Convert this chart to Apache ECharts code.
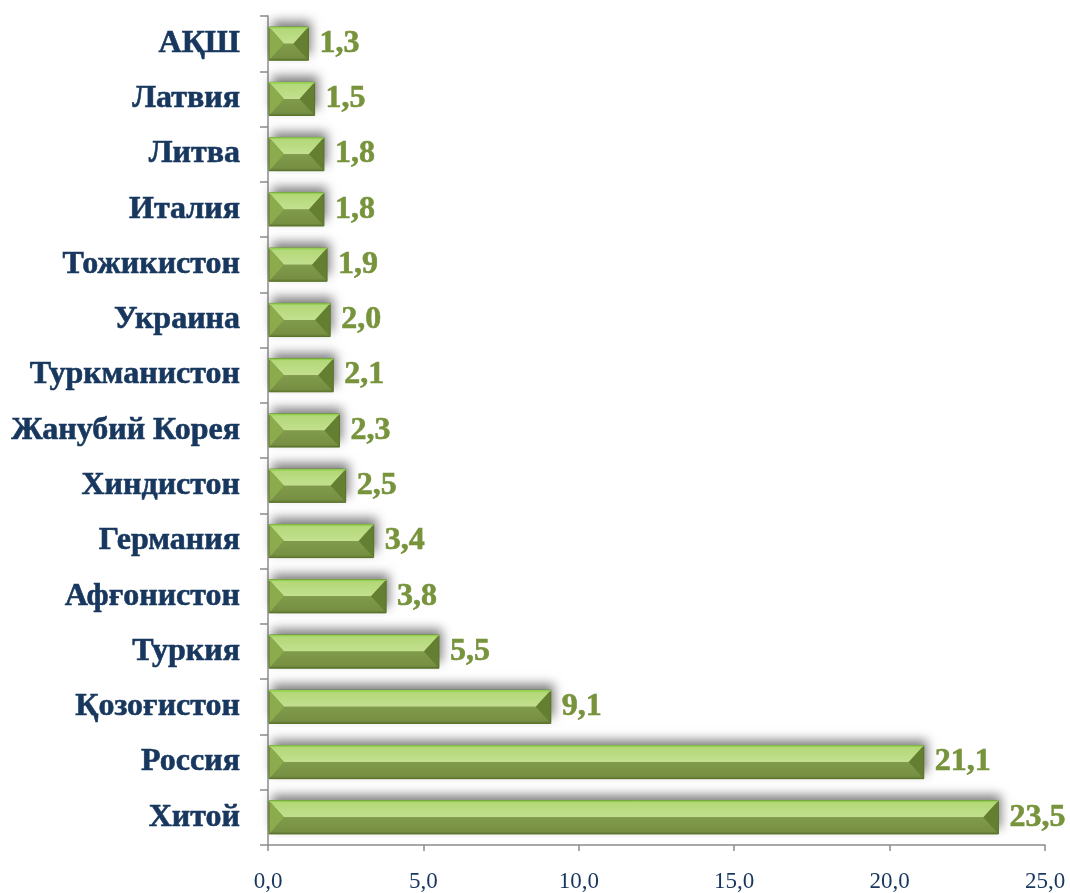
<!DOCTYPE html>
<html><head><meta charset="utf-8">
<script src="https://cdn.jsdelivr.net/npm/echarts@6/dist/echarts.min.js"></script>
<style>html,body{margin:0;padding:0;background:#fff}#c{width:1070px;height:893px}</style>
</head><body><div id="c"></div>
<script>
const categories = ['Хитой','Россия','Қозоғистон','Туркия','Афғонистон','Германия','Хиндистон','Жанубий Корея','Туркманистон','Украина','Тожикистон','Италия','Литва','Латвия','АҚШ'];
const values = [23.5,21.1,9.1,5.5,3.8,3.4,2.5,2.3,2.1,2.0,1.9,1.8,1.8,1.5,1.3];
const xTicks = {min:0, max:25, interval:5};

const fmt = v => Number(v).toFixed(1).replace('.', ',');
const chart = echarts.init(document.getElementById('c'));

function renderBevel(params, api){
  const v = api.value(1), idx = api.value(0);
  const p0 = api.coord([0, idx]);
  const p1 = api.coord([v, idx]);
  const h = api.size([0,1])[1]*0.6;
  const x0 = p0[0]+1, x1 = p1[0], y0 = p0[1]-h/2, y1 = p0[1]+h/2, ym = p0[1];
  const b = Math.min(15, (x1-x0)/2);
  return {type:'group', children:[
    {type:'rect', shape:{x:x0,y:y0,width:x1-x0,height:h},
      style:{fill:'#7a9447', shadowColor:'rgba(0,0,0,0.5)', shadowBlur:10, shadowOffsetX:3, shadowOffsetY:-6}},
    {type:'polygon', shape:{points:[[x0,y0],[x1,y0],[x1-b,ym],[x0+b,ym]]},
      style:{fill:new echarts.graphic.LinearGradient(0,0,0,1,[
        {offset:0,color:'#9ad45a'},{offset:0.12,color:'#b3d878'},{offset:1,color:'#c3e08f'}])}},
    {type:'polygon', shape:{points:[[x0+b,ym],[x1-b,ym],[x1,y1],[x0,y1]]},
      style:{fill:new echarts.graphic.LinearGradient(0,0,0,1,[
        {offset:0,color:'#819b4c'},{offset:0.85,color:'#768f42'},{offset:1,color:'#5d7530'}])}},
    {type:'polygon', shape:{points:[[x0,y0],[x0+b,ym],[x0,y1]]},
      style:{fill:'#8bab4c'}},
    {type:'polygon', shape:{points:[[x1,y0],[x1,y1],[x1-b,ym]]},
      style:{fill:'#647f31'}},
    {type:'rect', shape:{x:x0,y:y0,width:x1-x0,height:h},
      style:{fill:'none', stroke:'#5a7229', lineWidth:1}},
    {type:'line', shape:{x1:x0,y1:y0+0.5,x2:x1,y2:y0+0.5},
      style:{stroke:'#92d050', lineWidth:1.5}}
  ]};
}

chart.setOption({
  animation:false,
  grid:{left:268,right:25,top:16,bottom:47,containLabel:false},
  xAxis:{type:'value',min:xTicks.min,max:xTicks.max,interval:xTicks.interval,
    axisLine:{show:true,lineStyle:{color:'#8c8c8c',width:1.5}},
    axisTick:{show:true,length:6,lineStyle:{color:'#8c8c8c',width:1.5}},
    splitLine:{show:false},
    axisLabel:{margin:25,formatter:fmt,color:'#17375E',fontFamily:'Liberation Serif',fontSize:23}},
  yAxis:{type:'category',data:categories,
    axisLine:{show:true,lineStyle:{color:'#8c8c8c',width:1.5}},
    axisTick:{show:true,length:8,lineStyle:{color:'#8c8c8c',width:1.5}},
    axisLabel:{margin:28,color:'#17375E',fontFamily:'Liberation Serif',fontWeight:'bold',fontSize:32,
      textBorderColor:'#17375E',textBorderWidth:0.6}},
  series:[
    {type:'custom', renderItem:renderBevel, encode:{x:1,y:0},
      data:values.map((v,i)=>[i,v]), z:2},
    {type:'bar',data:values,barWidth:'60%',itemStyle:{color:'rgba(0,0,0,0)'},z:3,
    label:{show:true,position:'right',distance:11,formatter:p=>fmt(p.value),
      color:'#77933C',fontFamily:'Liberation Serif',fontWeight:'bold',fontSize:32,
      textBorderColor:'#77933C',textBorderWidth:0.6}
  }]
});
</script></body></html>
